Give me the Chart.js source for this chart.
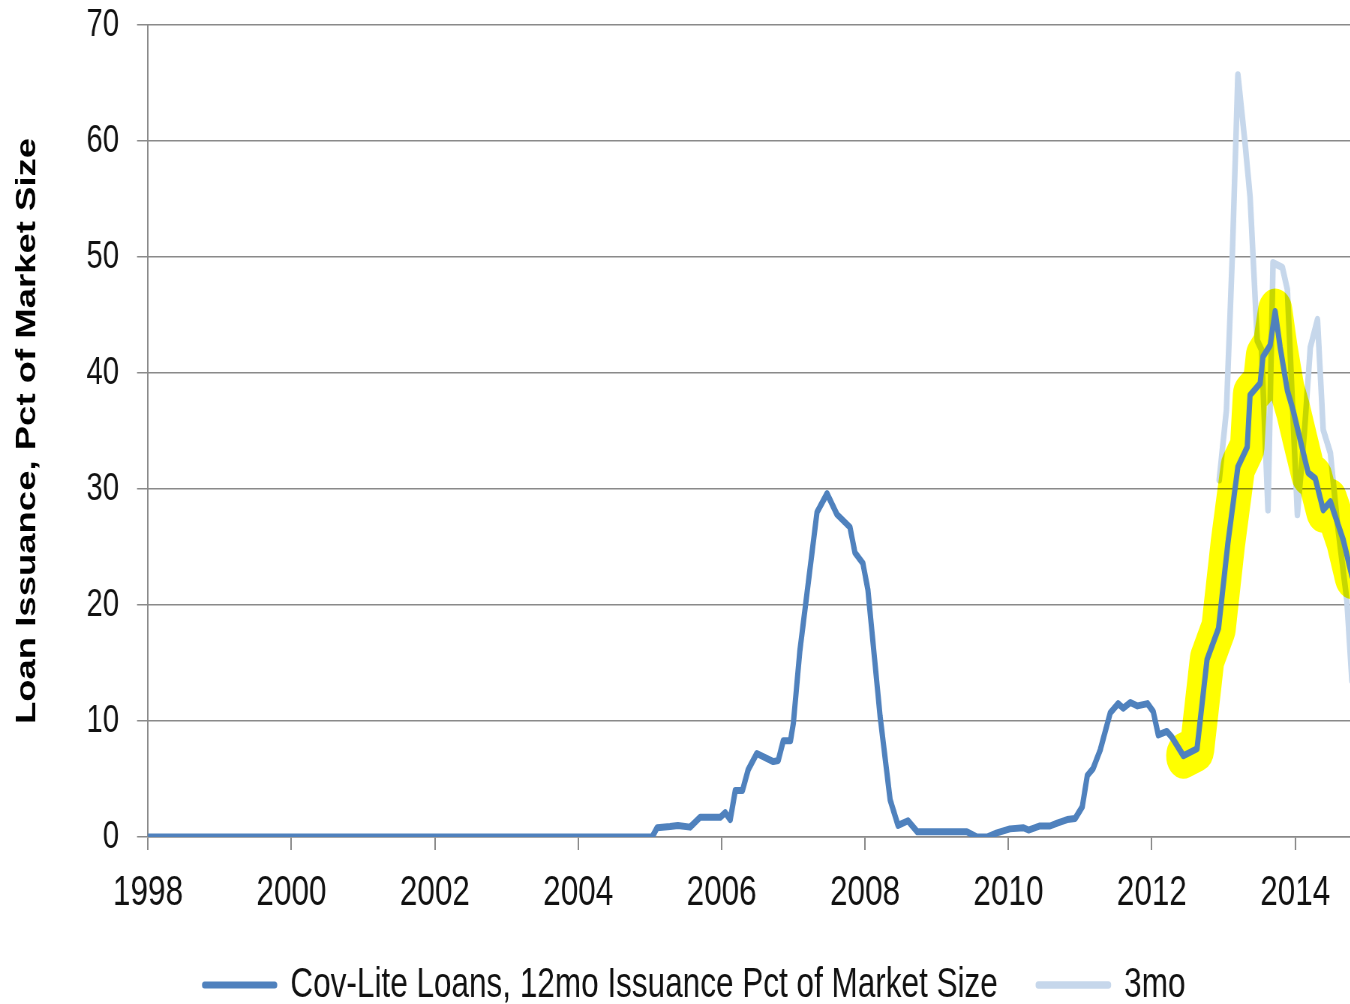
<!DOCTYPE html>
<html>
<head>
<meta charset="utf-8">
<title>Cov-Lite Loans</title>
<script src="https://cdn.jsdelivr.net/npm/chart.js@4.4.1/dist/chart.umd.min.js"></script>
<style>
  html, body { margin: 0; padding: 0; background: #fff; overflow: hidden; }
  canvas { display: block; }
</style>
</head>
<body>
<canvas id="chart"></canvas>
<script>
// 12-month cov-lite issuance as % of market size
const covLiteYears = [
  1998.00, 2005.03, 2005.10, 2005.28, 2005.39, 2005.56, 2005.70, 2005.98, 2006.05, 2006.12,
  2006.19, 2006.29, 2006.37, 2006.49, 2006.72, 2006.79, 2006.86, 2006.96, 2007.00, 2007.09,
  2007.19, 2007.33, 2007.47, 2007.61, 2007.79, 2007.86, 2007.97, 2008.04, 2008.21, 2008.35,
  2008.46, 2008.60, 2008.73, 2009.42, 2009.56, 2009.70, 2009.84, 2010.02, 2010.21, 2010.28,
  2010.44, 2010.58, 2010.68, 2010.82, 2010.93, 2011.03, 2011.10, 2011.18, 2011.28, 2011.42,
  2011.53, 2011.60, 2011.70, 2011.80, 2011.94, 2012.02, 2012.09, 2012.21, 2012.28, 2012.44,
  2012.63, 2012.77, 2012.93, 2013.06, 2013.20, 2013.33, 2013.37, 2013.51, 2013.55, 2013.65,
  2013.72, 2013.79, 2013.89, 2013.97, 2014.07, 2014.18, 2014.28, 2014.39, 2014.49, 2014.67,
  2014.79
];
const covLiteValues = [
  0, 0, 0.8, 0.9, 1.0, 0.85, 1.7, 1.7, 2.1, 1.5,
  4.0, 4.0, 5.8, 7.2, 6.5, 6.6, 8.3, 8.3, 9.8, 16.0,
  21.0, 28.0, 29.6, 27.8, 26.7, 24.5, 23.6, 21.3, 10.4, 3.2,
  1.0, 1.4, 0.45, 0.45, 0, 0, 0.35, 0.7, 0.8, 0.6,
  0.95, 0.95, 1.2, 1.5, 1.6, 2.6, 5.3, 5.9, 7.5, 10.7,
  11.5, 11.1, 11.6, 11.3, 11.5, 10.8, 8.8, 9.1, 8.6, 7.0,
  7.6, 15.3, 18.0, 25.3, 31.9, 33.6, 38.1, 39.1, 41.4, 42.4,
  45.3, 42.2, 38.5, 36.8, 34.2, 31.4, 30.9, 28.2, 28.9, 25.6,
  22.5
];

// 3-month issuance
const threeMoYears = [
  2012.94, 2013.04, 2013.12, 2013.20, 2013.30, 2013.37, 2013.47, 2013.53, 2013.62, 2013.69,
  2013.82, 2013.89, 2014.03, 2014.13, 2014.21, 2014.31, 2014.39, 2014.49, 2014.59, 2014.72,
  2014.79
];
const threeMoValues = [
  30.8, 36.8, 49.7, 65.7, 59.8, 55.2, 42.8, 42.0, 28.2, 49.5,
  49.1, 47.2, 27.8, 35.1, 42.2, 44.6, 35.1, 33.1, 26.9, 20.4,
  13.5
];

const highlightFrom = 2012.40;
const yearTicks = [1998, 2000, 2002, 2004, 2006, 2008, 2010, 2012, 2014];
const seriesNames = ['Cov-Lite Loans, 12mo Issuance Pct of Market Size', '3mo'];

const toPoints = (xs, ys) => xs.map((x, i) => ({ x: x, y: ys[i] }));
const mainPoints = toPoints(covLiteYears, covLiteValues);
const highlightPoints = mainPoints.filter(p => p.x >= highlightFrom);

// the chart is laid out on a wide canvas and squeezed horizontally (narrow text look)
const squeeze = 0.75;
const canvasW = 1853;
const canvasH = 1016;
const plotLeft = 148 / squeeze;
const pxPerYear = 1147 / 16 / squeeze;

const canvas = document.getElementById('chart');
canvas.width = canvasW;
canvas.height = canvasH;
canvas.style.width = (canvasW * squeeze) + 'px';
canvas.style.height = canvasH + 'px';

const sans = "'Liberation Sans', Arial, sans-serif";
const axisGrey = '#8a8a8a';

// yellow marker drawn with multiply so the light line shows through it
const highlightBlend = {
  id: 'highlightBlend',
  beforeDatasetDraw(chart, args) {
    if (chart.data.datasets[args.index].marker) {
      chart.ctx.save();
      chart.ctx.globalCompositeOperation = 'multiply';
    }
  },
  afterDatasetDraw(chart, args) {
    if (chart.data.datasets[args.index].marker) chart.ctx.restore();
  }
};

new Chart(canvas, {
  type: 'line',
  data: {
    datasets: [
      {
        label: seriesNames[0],
        data: mainPoints,
        borderColor: '#4f81bd',
        backgroundColor: '#4f81bd',
        borderWidth: 7,
        borderJoinStyle: 'round',
        borderCapStyle: 'round'
      },
      {
        label: 'highlight',
        marker: true,
        data: highlightPoints,
        borderColor: '#ffff00',
        backgroundColor: '#ffff00',
        borderWidth: 46,
        borderJoinStyle: 'round',
        borderCapStyle: 'round'
      },
      {
        label: seriesNames[1],
        data: toPoints(threeMoYears, threeMoValues),
        borderColor: '#c6d7eb',
        backgroundColor: '#c6d7eb',
        borderWidth: 7.5,
        borderJoinStyle: 'round',
        borderCapStyle: 'round'
      }
    ]
  },
  options: {
    responsive: false,
    animation: false,
    devicePixelRatio: 1,
    layout: { padding: 0 },
    elements: { point: { radius: 0 }, line: { tension: 0 } },
    scales: {
      x: {
        type: 'linear',
        min: 1998,
        max: 1998 + (canvasW - plotLeft) / pxPerYear,
        afterBuildTicks: scale => { scale.ticks = yearTicks.map(v => ({ value: v })); },
        afterFit: scale => { scale.height = 73; },
        grid: { drawOnChartArea: false, drawTicks: true, tickLength: 13, color: axisGrey, lineWidth: 2 },
        border: { display: true, color: axisGrey, width: 1.5 },
        ticks: {
          padding: 22,
          color: '#111',
          maxRotation: 0,
          font: { family: sans, size: 42, lineHeight: 1.0 },
          callback: v => String(v)
        }
      },
      y: {
        min: 0,
        max: 70,
        afterFit: scale => {
          scale.width = plotLeft;
          scale.paddingTop = 25;
          scale.paddingBottom = 0;
        },
        grid: { drawTicks: true, tickLength: 11 / squeeze, color: axisGrey, lineWidth: 1.5 },
        border: { display: true, color: axisGrey, width: 2 },
        ticks: {
          stepSize: 10,
          padding: 24,
          color: '#111',
          font: { family: sans, size: 39 }
        },
        title: {
          display: true,
          text: 'Loan Issuance, Pct of Market Size',
          color: '#000',
          padding: { top: 15, bottom: 0 },
          font: { family: sans, size: 36.5, weight: 'bold' }
        }
      }
    },
    plugins: {
      tooltip: { enabled: false },
      legend: {
        position: 'bottom',
        labels: {
          filter: item => item.text !== 'highlight',
          boxWidth: 70 / squeeze,
          boxHeight: 0,
          padding: 54,
          color: '#111',
          font: { family: sans, size: 42 }
        }
      }
    }
  },
  plugins: [highlightBlend]
});
</script>
</body>
</html>
